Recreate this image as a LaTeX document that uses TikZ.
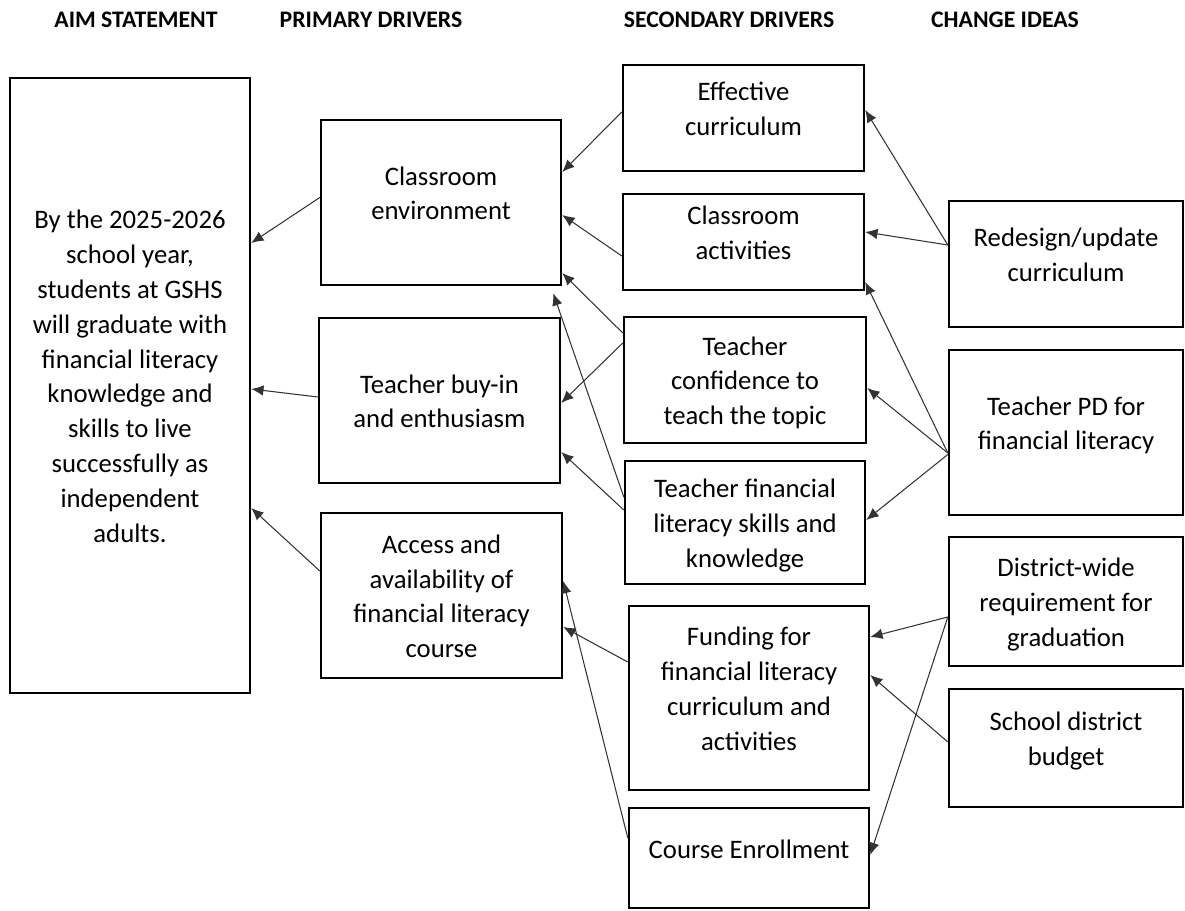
\documentclass[tikz,border=0pt]{standalone}
\usepackage{fontspec}
\setmainfont{Carlito}
\usetikzlibrary{arrows.meta,calc}

% struts for the first and last line of a box
\newcommand{\topstr}{\rule{0pt}{0.45cm}}
\newcommand{\botstr}{\rule[-0.45cm]{0pt}{0pt}}
\newcommand{\topstrlow}{\rule{0pt}{0.65cm}}
\newcommand{\botstrlow}{\rule[-0.25cm]{0pt}{0pt}}

\begin{document}
\begin{tikzpicture}[x=0.02cm,y=-0.02cm,
	>={Latex[length=7pt,width=6pt]},
	box/.style={draw,line width=1.4pt,align=center,inner sep=0pt,
		font=\fontsize{15.2}{19.9}\selectfont},
	head/.style={anchor=base,font=\fontsize{13.5}{16}\selectfont\bfseries},
	link/.style={->,line width=0.6pt,draw=black!80}]

\useasboundingbox (0,0) rectangle (1185,911);

% column headings
\node[head] (hAim) at (136,28) {AIM STATEMENT};
\node[head] (hPri) at (371,28) {PRIMARY DRIVERS};
\node[head] (hSec) at (729,28) {SECONDARY DRIVERS};
\node[head] (hChg) at (1005,28) {CHANGE IDEAS};

% aim
\node[box,minimum width=4.8cm,minimum height=12.3cm] (aim) at (130,385.5)
	{\topstr By the 2025-2026\\school year,\\students at GSHS\\will graduate with\\
	 financial literacy\\knowledge and\\skills to live\\successfully as\\
	 independent\\adults.\botstr};

% primary drivers
\node[box,minimum width=4.8cm,minimum height=3.3cm] (ce) at (441,202.5)
	{\topstr Classroom\\environment\botstr};
\node[box,minimum width=4.82cm,minimum height=3.3cm] (tb) at (439.5,400.5)
	{\topstrlow Teacher buy-in\\and enthusiasm\botstrlow};
\node[box,minimum width=4.82cm,minimum height=3.3cm] (acc) at (441.5,595.5)
	{\topstrlow Access and\\availability of\\financial literacy\\course\botstrlow};

% secondary drivers
\node[box,minimum width=4.82cm,minimum height=2.12cm] (ec) at (743.5,118)
	{\topstr Effective\\curriculum\botstr};
\node[box,minimum width=4.82cm,minimum height=1.92cm] (ca) at (743.5,242)
	{\topstr Classroom\\activities\botstr};
\node[box,minimum width=4.84cm,minimum height=2.52cm] (tc) at (745,380)
	{\topstrlow Teacher\\confidence to\\teach the topic\botstrlow};
\node[box,minimum width=4.8cm,minimum height=2.46cm] (tf) at (745,522.5)
	{\topstrlow Teacher financial\\literacy skills and\\knowledge\botstrlow};
\node[box,minimum width=4.8cm,minimum height=3.68cm] (fund) at (749,698)
	{\topstr Funding for\\financial literacy\\curriculum and\\activities\botstr};
\node[box,minimum width=4.8cm,minimum height=2cm] (enr) at (749,858)
	{\topstr Course Enrollment\botstr};

% change ideas
\node[box,minimum width=4.68cm,minimum height=2.52cm] (rd) at (1066,264)
	{\topstr Redesign/update\\curriculum\botstr};
\node[box,minimum width=4.68cm,minimum height=3.3cm] (pd) at (1066,432.5)
	{\topstr Teacher PD for\\financial literacy\botstr};
\node[box,minimum width=4.68cm,minimum height=2.58cm] (dw) at (1066,601.5)
	{\topstrlow District-wide\\requirement for\\graduation\botstrlow};
\node[box,minimum width=4.68cm,minimum height=2.36cm] (sb) at (1066,748)
	{\topstr School district\\budget\botstr};

% arrows: from/offset/to/offset
\foreach \a/\da/\b/\db in {ce/-5/aim/-142.5, tb/-3.5/aim/3.5, acc/-24.5/aim/122.5,
	ec/-6/ce/-30.5, ca/14/ce/12.5, tc/-47/ce/70.5, tc/-37/tb/2.5,
	tf/-12.5/tb/51.5, fund/-36/acc/31.5, enr/-20/acc/-14.5,
	rd/-19/ec/-8, rd/-19/ca/-10, pd/20.5/ca/40, pd/20.5/tc/8, pd/22/tf/-2.5,
	dw/15.5/fund/-61, dw/15.5/enr/-3, sb/-6/fund/-23}{
	\draw[link] ($(\a.west)+(0,\da)$) -- ($(\b.east)+(0,\db)$);
}
\draw[link] ($(tf.west)+(0,-25.5)$) -- ($(ce.south east)+(-9,7)$);

\end{tikzpicture}
\end{document}
